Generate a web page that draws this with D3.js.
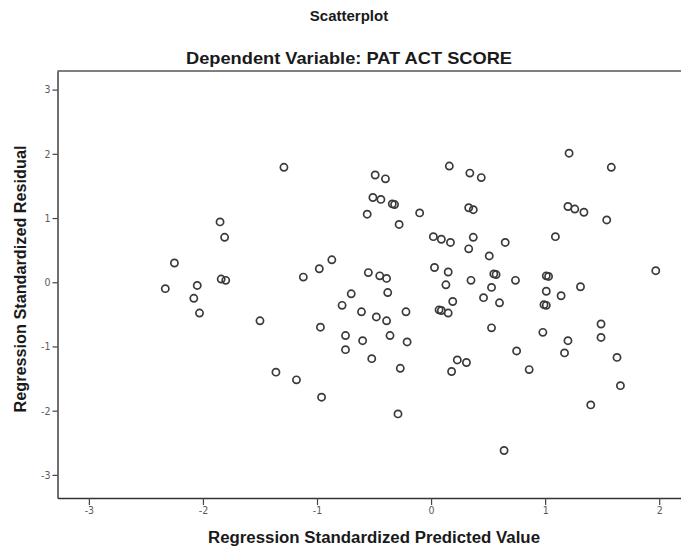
<!DOCTYPE html>
<html>
<head>
<meta charset="utf-8">
<script src="https://cdn.jsdelivr.net/npm/d3@7"></script>
<style>
  html, body { margin: 0; padding: 0; background: #fff; }
  svg { display: block; }
  .tick text { font-family: "Liberation Sans Narrow", "DejaVu Sans Condensed", "Liberation Sans", sans-serif; font-size: 10.5px; fill: #5a5a5a; }
  .tick line { stroke: #444; stroke-width: 1.2; }
  .domain { stroke: #333; stroke-width: 1.4; }
</style>
</head>
<body>
<script>
// Regression Standardized Predicted Value (x) for each case
const predicted = [
  -2.33, -2.25, -2.05, -2.08, -2.03, -1.85, -1.81, -1.84, -1.80, -1.50,
  -1.29, -1.12, -0.98, -0.87, -0.97, -0.78, -1.36, -1.18, -0.96,
   0.16,  0.34,  0.44, -0.49, -0.40, -0.51, -0.44, -0.34, -0.32, -0.56,
  -0.10, -0.28,  0.33,  0.37,  0.02,  0.09,  0.17,  0.37,  0.33,  0.51,
  -0.55, -0.45, -0.39,  0.03,  0.15,  0.55,  0.57,  0.13,  0.35,  0.53,
  -0.70, -0.38, -0.61, -0.48, -0.39, -0.22,  0.07,  0.09,  0.15,  0.19,
   0.46,  0.60,  0.53, -0.75, -0.60, -0.36, -0.21, -0.75, -0.52, -0.27,
   0.23,  0.31,  0.18,  0.75, -0.29,  0.64,  1.21,  1.58,  1.20,  1.26,
   1.34,  1.54,  1.09,  0.65,  0.74,  1.01,  1.03,  1.01,  1.14,  1.31,
   0.99,  1.01,  0.98,  1.49,  1.20,  1.49,  1.17,  1.63,  0.86,  1.66,
   1.40,  1.97
];

// Regression Standardized Residual (y) for each case
const residual = [
  -0.10,  0.30, -0.05, -0.25, -0.48,  0.94,  0.70,  0.05,  0.03, -0.60,
   1.79,  0.08,  0.21,  0.35, -0.70, -0.36, -1.40, -1.52, -1.79,
   1.81,  1.70,  1.63,  1.67,  1.61,  1.32,  1.29,  1.22,  1.21,  1.06,
   1.08,  0.90,  1.16,  1.13,  0.71,  0.67,  0.62,  0.70,  0.52,  0.41,
   0.15,  0.10,  0.06,  0.23,  0.16,  0.13,  0.12, -0.04,  0.03, -0.08,
  -0.18, -0.16, -0.46, -0.54, -0.60, -0.46, -0.43, -0.44, -0.48, -0.30,
  -0.24, -0.32, -0.71, -0.83, -0.91, -0.83, -0.93, -1.05, -1.19, -1.34,
  -1.21, -1.25, -1.39, -1.07, -2.05, -2.62,  2.01,  1.79,  1.18,  1.14,
   1.09,  0.97,  0.71,  0.62,  0.03,  0.10,  0.09, -0.14, -0.21, -0.07,
  -0.35, -0.36, -0.78, -0.65, -0.91, -0.86, -1.10, -1.17, -1.36, -1.61,
  -1.91,  0.18
];

const xTicks = [-3, -2, -1, 0, 1, 2];
const yTicks = [-3, -2, -1, 0, 1, 2, 3];

const chartTitle = "Scatterplot";
const chartSubtitle = "Dependent Variable: PAT ACT SCORE";
const xTitle = "Regression Standardized Predicted Value";
const yTitle = "Regression Standardized Residual";

const W = 681, H = 548;
const plot = { left: 57.5, right: 690, top: 71, bottom: 498 };

const svg = d3.select("body").append("svg")
  .attr("width", W).attr("height", H);

const x = d3.scaleLinear().domain([-3.275, 2.27]).range([plot.left, plot.right]);
const y = d3.scaleLinear().domain([-3.36, 3.29]).range([plot.bottom, plot.top]);

// Titles
svg.append("text")
  .attr("x", 349).attr("y", 21)
  .attr("text-anchor", "middle")
  .style("font-family", "'Liberation Sans', Arial, sans-serif")
  .style("font-weight", "bold").style("font-size", "15px").style("fill", "#1a1a1a")
  .text(chartTitle);

svg.append("text")
  .attr("x", 349).attr("y", 64)
  .attr("text-anchor", "middle")
  .attr("textLength", 326).attr("lengthAdjust", "spacingAndGlyphs")
  .style("font-family", "'Liberation Sans', Arial, sans-serif")
  .style("font-weight", "bold").style("font-size", "17px").style("fill", "#1a1a1a")
  .text(chartSubtitle);

// Frame top edge
svg.append("line")
  .attr("x1", plot.left).attr("x2", plot.right)
  .attr("y1", plot.top).attr("y2", plot.top)
  .attr("stroke", "#555").attr("stroke-width", 1.6);

// Axes
const gx = svg.append("g")
  .attr("transform", `translate(0,${plot.bottom})`)
  .call(d3.axisBottom(x).tickValues(xTicks).tickSize(7).tickSizeOuter(0)
    .tickFormat(d => String(d)));
gx.selectAll(".tick text").attr("dy", "0.95em").attr("y", 6);

const gy = svg.append("g")
  .attr("transform", `translate(${plot.left},0)`)
  .call(d3.axisLeft(y).tickValues(yTicks).tickSize(5).tickSizeOuter(0)
    .tickFormat(d => String(d)));
gy.selectAll(".tick text").attr("x", -7);

// Axis titles
svg.append("text")
  .attr("x", 374).attr("y", 543)
  .attr("text-anchor", "middle")
  .attr("textLength", 332).attr("lengthAdjust", "spacingAndGlyphs")
  .style("font-family", "'Liberation Sans', Arial, sans-serif")
  .style("font-weight", "bold").style("font-size", "16px").style("fill", "#1a1a1a")
  .text(xTitle);

svg.append("text")
  .attr("transform", "translate(26,279) rotate(-90)")
  .attr("text-anchor", "middle")
  .attr("textLength", 267).attr("lengthAdjust", "spacingAndGlyphs")
  .style("font-family", "'Liberation Sans', Arial, sans-serif")
  .style("font-weight", "bold").style("font-size", "16px").style("fill", "#1a1a1a")
  .text(yTitle);

// Points
const cases = predicted.map((p, i) => ({ p, r: residual[i] }));
svg.append("g")
  .selectAll("circle")
  .data(cases)
  .join("circle")
  .attr("cx", d => x(d.p))
  .attr("cy", d => y(d.r))
  .attr("r", 3.6)
  .attr("fill", "none")
  .attr("stroke", "#3a3a3a")
  .attr("stroke-width", 1.7);
</script>
</body>
</html>
